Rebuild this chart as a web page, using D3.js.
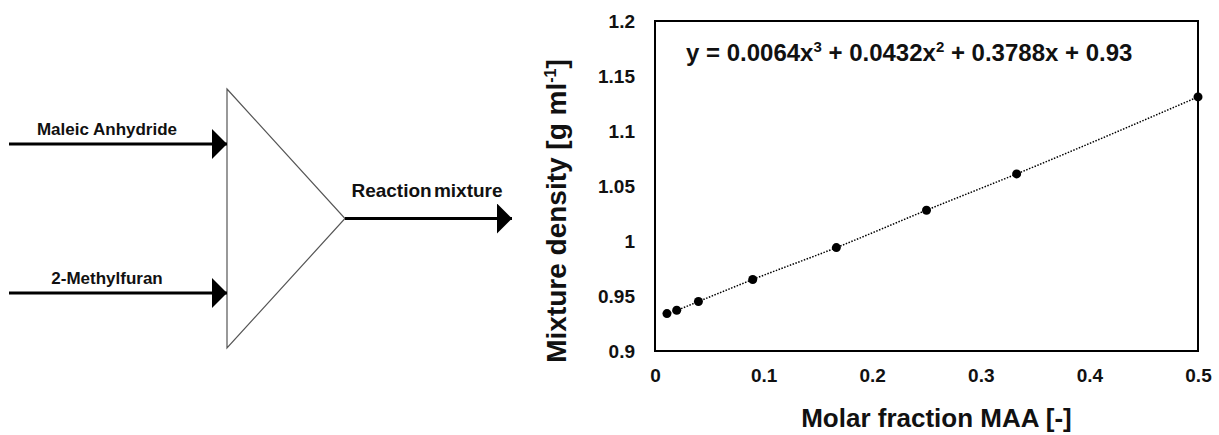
<!DOCTYPE html>
<html>
<head>
<meta charset="utf-8">
<script src="https://cdn.jsdelivr.net/npm/d3@7"></script>
<style>
  body { margin: 0; background: #fff; }
  svg { display: block; }
</style>
</head>
<body>
<svg id="fig" width="1219" height="435"></svg>
<script>
// data
let molarFraction = [0.011, 0.02, 0.04, 0.09, 0.167, 0.25, 0.333, 0.5];
let density = [0.934, 0.937, 0.945, 0.965, 0.994, 1.028, 1.061, 1.131];
let xTicks = [0, 0.1, 0.2, 0.3, 0.4, 0.5];
let yTicks = [0.9, 0.95, 1, 1.05, 1.1, 1.15, 1.2];
let inputStreams = ["Maleic Anhydride", "2-Methylfuran"];
let outputStream = "Reaction mixture";

let svg = d3.select("#fig");
let labelFont = "Liberation Sans, Arial, sans-serif";
let tickFont = "Liberation Sans Narrow, Arial Narrow, Liberation Sans, sans-serif";

// -------------------- MIXER DIAGRAM -------------------- //
// arrow head: 15 long, 30 tall for a 3px line
svg.append("defs").append("marker")
    .attr("id", "head")
    .attr("viewBox", "0 0 5 10")
    .attr("refX", 5).attr("refY", 5)
    .attr("markerWidth", 5).attr("markerHeight", 10)
    .attr("markerUnits", "strokeWidth")
    .attr("orient", "auto")
    .append("path")
    .attr("d", "M0,0 L5,5 L0,10 Z")
    .attr("fill", "#000");

let mixer = svg.append("g").attr("class", "mixer");
let triLeft = 227, triTop = 89, triBottom = 348, apexX = 345;
let apexY = (triTop + triBottom) / 2;

mixer.append("path")
    .attr("d", `M${triLeft},${triTop} L${apexX},${apexY} L${triLeft},${triBottom} Z`)
    .attr("fill", "none")
    .attr("stroke", "#555")
    .attr("stroke-width", 1.2);

let inY = d3.scalePoint().domain(inputStreams).range([144, 293]);

mixer.selectAll(".inline")
    .data(inputStreams)
    .enter().append("line")
    .attr("x1", 9).attr("x2", triLeft)
    .attr("y1", d => inY(d)).attr("y2", d => inY(d))
    .attr("stroke", "#000").attr("stroke-width", 3)
    .attr("marker-end", "url(#head)");

mixer.selectAll(".inlabel")
    .data(inputStreams)
    .enter().append("text")
    .attr("x", 107)
    .attr("y", d => inY(d) - 9)
    .attr("text-anchor", "middle")
    .style("font-family", labelFont)
    .style("font-weight", "bold")
    .style("font-size", "17px")
    .attr("fill", "#111")
    .text(d => d);

mixer.append("line")
    .attr("x1", apexX).attr("x2", 512)
    .attr("y1", apexY).attr("y2", apexY)
    .attr("stroke", "#000").attr("stroke-width", 3)
    .attr("marker-end", "url(#head)");

mixer.append("text")
    .attr("x", 427).attr("y", apexY - 22)
    .attr("text-anchor", "middle")
    .style("font-family", labelFont)
    .style("font-weight", "bold")
    .style("font-size", "19px")
    .style("word-spacing", "-3px")
    .attr("fill", "#111")
    .text(outputStream);

// -------------------- DENSITY CHART -------------------- //
let x = d3.scaleLinear().domain([0, 0.5]).range([655, 1198]);
let y = d3.scaleLinear().domain([0.9, 1.2]).range([351, 21]);

let chart = svg.append("g").attr("class", "chart");

chart.append("rect")
    .attr("x", x(0)).attr("y", y(1.2))
    .attr("width", x(0.5) - x(0)).attr("height", y(0.9) - y(1.2))
    .attr("fill", "none").attr("stroke", "#000").attr("stroke-width", 2);

let xAxis = chart.append("g")
    .attr("transform", `translate(0,${y(0.9)})`)
    .call(d3.axisBottom(x).tickValues(xTicks).tickSize(0).tickPadding(18)
        .tickFormat(d => d3.format("")(d)));
let yAxis = chart.append("g")
    .attr("transform", `translate(${x(0)},0)`)
    .call(d3.axisLeft(y).tickValues(yTicks).tickSize(0).tickPadding(20)
        .tickFormat(d => d3.format("")(+d.toFixed(2))));

[xAxis, yAxis].forEach(a => {
    a.select(".domain").remove();
    a.selectAll("text")
        .style("font-family", tickFont)
        .style("font-weight", "bold")
        .style("font-size", "19px")
        .attr("fill", "#111");
});

let points = molarFraction.map((v, i) => [v, density[i]]);

chart.append("path")
    .datum(points)
    .attr("d", d3.line().x(d => x(d[0])).y(d => y(d[1])).curve(d3.curveMonotoneX))
    .attr("fill", "none")
    .attr("stroke", "#000")
    .attr("stroke-width", 1.5)
    .attr("stroke-dasharray", "1.5,1.5");

chart.selectAll(".dot")
    .data(points)
    .enter().append("circle")
    .attr("class", "dot")
    .attr("cx", d => x(d[0])).attr("cy", d => y(d[1]))
    .attr("r", 4.5)
    .attr("fill", "#000");

// trendline equation
let eq = chart.append("text")
    .attr("x", 686).attr("y", 61)
    .style("font-family", tickFont)
    .style("font-weight", "bold")
    .style("font-size", "24px")
    .attr("fill", "#111");
eq.append("tspan").text("y = 0.0064x");
eq.append("tspan").attr("dy", -9).style("font-size", "15px").text("3");
eq.append("tspan").attr("dy", 9).text(" + 0.0432x");
eq.append("tspan").attr("dy", -9).style("font-size", "15px").text("2");
eq.append("tspan").attr("dy", 9).text(" + 0.3788x + 0.93");

// axis titles
chart.append("text")
    .attr("x", (x(0) + x(0.5)) / 2 + 10).attr("y", 427)
    .attr("text-anchor", "middle")
    .style("font-family", tickFont)
    .style("font-weight", "bold")
    .style("font-size", "26px")
    .attr("fill", "#111")
    .text("Molar fraction MAA [-]");

let yTitle = chart.append("text")
    .attr("transform", `translate(566,211) rotate(-90)`)
    .attr("text-anchor", "middle")
    .style("font-family", tickFont)
    .style("font-weight", "bold")
    .style("font-size", "28px")
    .attr("fill", "#111");
yTitle.append("tspan").text("Mixture density [g ml");
yTitle.append("tspan").attr("dy", -10).style("font-size", "16px").text("-1");
yTitle.append("tspan").attr("dy", 10).text("]");
</script>
</body>
</html>
